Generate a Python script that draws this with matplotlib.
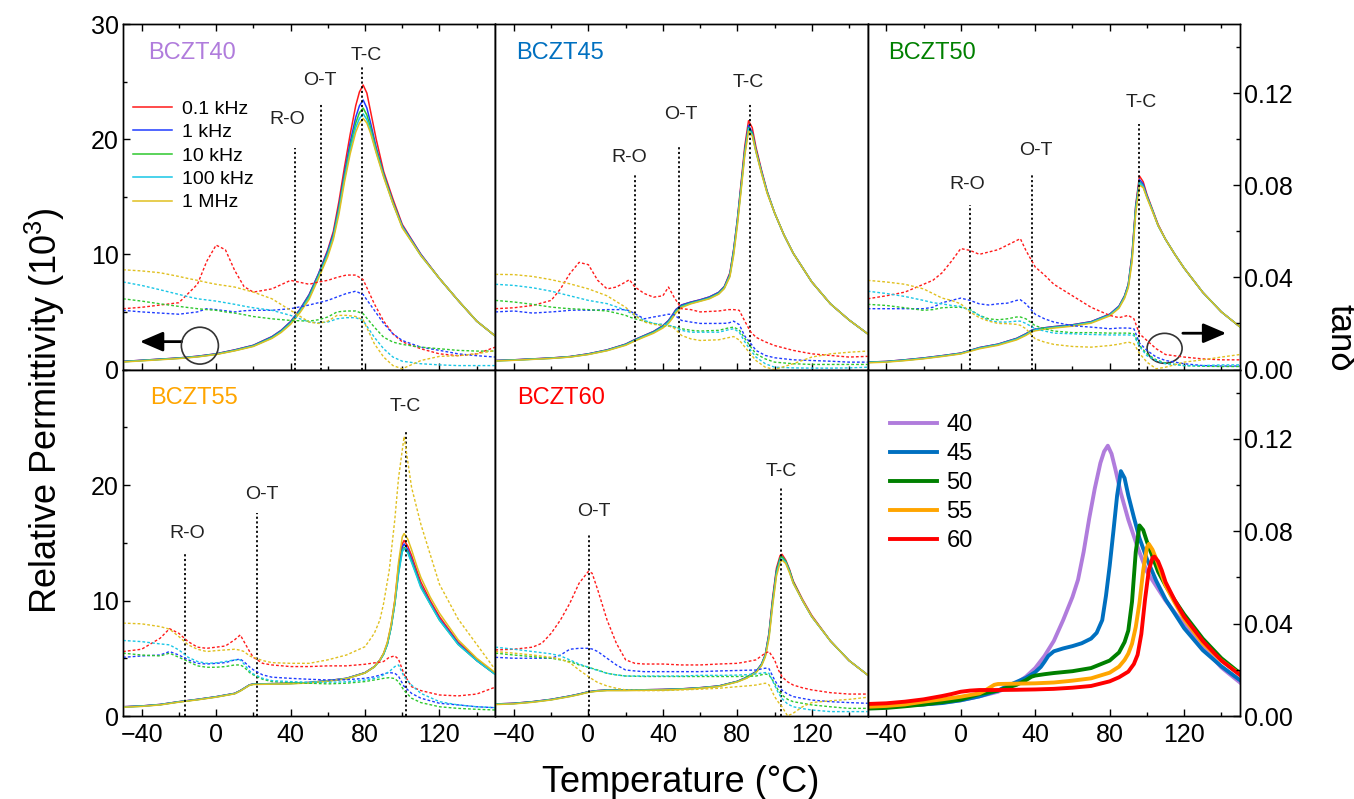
import matplotlib
matplotlib.use("Agg")
import matplotlib.pyplot as plt
from matplotlib.patches import Ellipse
from matplotlib.ticker import MultipleLocator, FormatStrFormatter

plt.rcParams["font.family"] = ["Liberation Sans", "DejaVu Sans"]
plt.rcParams["mathtext.fontset"] = "custom"
plt.rcParams["mathtext.rm"] = "Liberation Sans"
plt.rcParams["mathtext.it"] = "Liberation Sans"
plt.rcParams["axes.linewidth"] = 1.0

freq_labels = ["0.1 kHz", "1 kHz", "10 kHz", "100 kHz", "1 MHz"]
freq_colors = ["#ff1a1a", "#1f3cff", "#2ec82e", "#19c6e6", "#e0c020"]

# ---- BCZT40 ----
t40_eps = [-50, -40, -30, -20, -10, 0, 10, 20, 30, 35, 40, 45, 50, 55, 60, 63, 66, 69, 72, 75,
           77, 79, 81, 83, 86, 90, 95, 100, 110, 120, 130, 140, 150]
eps40 = [
    [0.70, 0.80, 0.90, 1.00, 1.15, 1.36, 1.70, 2.10, 2.85, 3.40, 4.15, 5.20, 6.50, 8.30, 10.4, 12.0, 14.6, 17.6, 20.4, 22.9,
     24.1, 24.7, 24.0, 22.4, 20.0, 17.2, 14.8, 12.6, 10.0, 7.9, 6.0, 4.2, 2.9],
    [0.70, 0.80, 0.90, 1.00, 1.15, 1.36, 1.70, 2.10, 2.85, 3.40, 4.15, 5.20, 6.50, 8.30, 10.3, 11.8, 14.2, 17.1, 19.7, 21.9,
     22.9, 23.4, 22.7, 21.4, 19.3, 17.0, 14.6, 12.5, 10.0, 7.9, 6.0, 4.2, 2.9],
    [0.68, 0.78, 0.88, 0.98, 1.12, 1.33, 1.66, 2.05, 2.78, 3.32, 4.05, 5.08, 6.35, 8.15, 10.1, 11.6, 14.0, 16.8, 19.3, 21.4,
     22.3, 22.7, 22.1, 21.0, 19.1, 16.9, 14.5, 12.4, 9.9, 7.9, 6.0, 4.2, 2.9],
    [0.67, 0.77, 0.87, 0.97, 1.11, 1.32, 1.64, 2.03, 2.74, 3.28, 4.00, 5.02, 6.25, 8.05, 10.0, 11.5, 13.8, 16.6, 19.0, 21.0,
     21.8, 22.2, 21.7, 20.7, 18.9, 16.8, 14.4, 12.4, 9.9, 7.9, 6.0, 4.2, 2.9],
    [0.65, 0.75, 0.85, 0.95, 1.09, 1.30, 1.62, 2.00, 2.70, 3.22, 3.92, 4.92, 6.10, 7.90, 9.8, 11.3, 13.5, 16.3, 18.7, 20.6,
     21.4, 21.8, 21.4, 20.5, 18.8, 16.7, 14.4, 12.3, 9.9, 7.9, 6.0, 4.2, 2.9],
]
t40_tan = [-50, -40, -30, -20, -15, -10, -5, 0, 5, 10, 15, 20, 30, 40, 50, 55, 60, 65, 70, 75,
           79, 85, 90, 95, 100, 110, 120, 130, 140, 150]
tan40 = [
    [.0264, .0270, .0280, .0290, .0330, .0370, .0470, .0540, .0520, .0430, .0360, .0336, .0350, .0387, .0370, .0380, .0387, .0400, .0410, .0410,
     .0390, .0285, .0210, .0155, .0120, .0090, .0068, .0060, .0068, .0097],
    [.0257, .0250, .0245, .0240, .0245, .0250, .0264, .0260, .0255, .0250, .0255, .0257, .0257, .0264, .0280, .0290, .0300, .0315, .0330, .0340,
     .0325, .0257, .0200, .0155, .0126, .0097, .0083, .0068, .0060, .0054],
    [.0307, .0297, .0285, .0274, .0269, .0264, .0260, .0257, .0250, .0245, .0238, .0230, .0220, .0213, .0210, .0216, .0228, .0250, .0254, .0254,
     .0242, .0184, .0140, .0119, .0109, .0097, .0090, .0083, .0080, .0080],
    [.0380, .0365, .0346, .0326, .0316, .0307, .0302, .0297, .0290, .0283, .0275, .0268, .0257, .0235, .0206, .0203, .0206, .0220, .0225, .0225,
     .0212, .0140, .0090, .0054, .0036, .0025, .0020, .0017, .0017, .0017],
    [.0433, .0428, .0420, .0404, .0395, .0387, .0378, .0370, .0364, .0358, .0347, .0336, .0307, .0257, .0206, .0200, .0210, .0235, .0235, .0230,
     .0215, .0112, .0054, .0017, .0003, .0039, .0057, .0060, .0068, .0083],
]

# ---- BCZT45 ----
t45_eps = [-50, -40, -30, -20, -10, 0, 10, 20, 25, 30, 35, 40, 43, 45, 47, 50, 55, 60, 65, 70,
           73, 76, 78, 80, 82, 84, 86, 88, 90, 93, 96, 100, 105, 110, 120, 130, 140, 150]
eps45 = [
    [0.78, 0.84, 0.92, 1.00, 1.12, 1.36, 1.70, 2.20, 2.60, 2.95, 3.30, 3.80, 4.25, 4.70, 5.20, 5.60, 5.85, 6.05, 6.30, 6.70,
     7.20, 8.40, 10.4, 13.0, 16.2, 19.4, 21.6, 21.0, 19.3, 17.3, 15.5, 13.6, 11.7, 10.1, 7.6, 5.7, 4.3, 3.1],
    [0.78, 0.84, 0.92, 1.00, 1.12, 1.36, 1.70, 2.20, 2.60, 2.95, 3.30, 3.80, 4.25, 4.70, 5.20, 5.60, 5.85, 6.05, 6.30, 6.70,
     7.20, 8.30, 10.4, 13.0, 16.0, 19.1, 21.2, 20.6, 19.1, 17.2, 15.4, 13.6, 11.7, 10.1, 7.6, 5.7, 4.3, 3.1],
    [0.76, 0.82, 0.90, 0.98, 1.10, 1.33, 1.67, 2.16, 2.55, 2.90, 3.24, 3.72, 4.15, 4.58, 5.08, 5.50, 5.78, 5.98, 6.22, 6.62,
     7.12, 8.20, 10.2, 12.8, 15.8, 18.9, 21.0, 20.5, 19.0, 17.1, 15.4, 13.6, 11.7, 10.1, 7.6, 5.7, 4.3, 3.1],
    [0.75, 0.81, 0.89, 0.97, 1.09, 1.32, 1.65, 2.14, 2.52, 2.87, 3.20, 3.68, 4.10, 4.52, 5.02, 5.45, 5.74, 5.95, 6.18, 6.58,
     7.08, 8.15, 10.1, 12.7, 15.7, 18.8, 20.9, 20.4, 18.9, 17.1, 15.4, 13.6, 11.7, 10.1, 7.6, 5.7, 4.3, 3.1],
    [0.74, 0.80, 0.88, 0.96, 1.08, 1.30, 1.63, 2.10, 2.48, 2.82, 3.15, 3.60, 4.00, 4.42, 4.92, 5.38, 5.70, 5.92, 6.14, 6.54,
     7.02, 8.05, 9.9, 12.5, 15.5, 18.6, 20.7, 20.3, 18.9, 17.0, 15.3, 13.6, 11.7, 10.1, 7.6, 5.7, 4.3, 3.1],
]
t45_tan = [-50, -40, -30, -20, -15, -10, -5, 0, 5, 10, 15, 20, 22, 25, 30, 35, 40, 43, 46, 50,
           55, 60, 70, 75, 78, 81, 84, 87, 90, 95, 100, 110, 120, 130, 140, 150]
tan45 = [
    [.0264, .0268, .0278, .0300, .0350, .0416, .0465, .0455, .0387, .0350, .0358, .0380, .0390, .0358, .0330, .0314, .0320, .0358, .0314, .0264,
     .0260, .0250, .0254, .0260, .0260, .0257, .0210, .0165, .0140, .0120, .0104, .0083, .0068, .0061, .0054, .0057],
    [.0250, .0254, .0245, .0250, .0253, .0257, .0258, .0257, .0258, .0260, .0260, .0260, .0255, .0242, .0220, .0228, .0235, .0240, .0238, .0213,
     .0206, .0200, .0200, .0201, .0210, .0195, .0145, .0115, .0083, .0061, .0051, .0042, .0039, .0036, .0032, .0032],
    [.0300, .0293, .0283, .0271, .0267, .0264, .0262, .0260, .0257, .0254, .0245, .0235, .0228, .0220, .0210, .0200, .0191, .0189, .0185, .0177,
     .0170, .0167, .0170, .0180, .0184, .0172, .0135, .0100, .0068, .0046, .0032, .0025, .0022, .0022, .0022, .0022],
    [.0370, .0365, .0355, .0340, .0330, .0320, .0310, .0300, .0293, .0286, .0272, .0257, .0248, .0235, .0213, .0200, .0196, .0192, .0186, .0170,
     .0162, .0162, .0162, .0172, .0177, .0162, .0120, .0085, .0054, .0025, .0010, .0007, .0006, .0006, .0007, .0010],
    [.0413, .0412, .0404, .0390, .0381, .0372, .0361, .0350, .0335, .0320, .0295, .0270, .0255, .0235, .0206, .0196, .0191, .0189, .0180, .0148,
     .0133, .0126, .0129, .0138, .0143, .0128, .0098, .0068, .0039, .0010, .0000, .0025, .0054, .0068, .0075, .0080],
]

# ---- BCZT50 ----
t50_eps = [-50, -40, -30, -20, -10, 0, 10, 20, 30, 35, 38, 40, 45, 50, 60, 70, 80, 85, 88, 90,
           92, 94, 96, 98, 100, 103, 106, 110, 115, 120, 130, 140, 150]
eps50 = [
    [0.64, 0.70, 0.84, 1.00, 1.20, 1.42, 1.90, 2.20, 2.70, 3.10, 3.40, 3.50, 3.62, 3.72, 3.88, 4.15, 4.80, 5.50, 6.40, 7.40,
     10.0, 14.3, 16.8, 16.3, 15.2, 13.9, 12.6, 11.3, 10.0, 8.8, 6.7, 5.0, 3.7],
    [0.64, 0.70, 0.84, 1.00, 1.20, 1.42, 1.90, 2.20, 2.70, 3.10, 3.40, 3.50, 3.62, 3.72, 3.88, 4.15, 4.80, 5.50, 6.40, 7.40,
     9.9, 14.2, 16.5, 16.1, 15.1, 13.8, 12.5, 11.3, 10.0, 8.8, 6.7, 5.0, 3.7],
    [0.62, 0.68, 0.81, 0.97, 1.17, 1.39, 1.86, 2.16, 2.65, 3.04, 3.34, 3.44, 3.57, 3.67, 3.83, 4.10, 4.74, 5.42, 6.32, 7.30,
     9.7, 14.0, 16.3, 15.9, 15.0, 13.8, 12.5, 11.3, 10.0, 8.8, 6.7, 5.0, 3.7],
    [0.61, 0.67, 0.80, 0.96, 1.16, 1.38, 1.85, 2.15, 2.63, 3.02, 3.32, 3.42, 3.55, 3.65, 3.81, 4.08, 4.72, 5.40, 6.28, 7.25,
     9.6, 13.9, 16.2, 15.9, 15.0, 13.8, 12.5, 11.3, 10.0, 8.8, 6.7, 5.0, 3.7],
    [0.58, 0.64, 0.77, 0.93, 1.13, 1.35, 1.80, 2.10, 2.57, 2.96, 3.26, 3.36, 3.50, 3.60, 3.76, 4.02, 4.65, 5.32, 6.18, 7.10,
     9.3, 13.6, 16.0, 15.8, 14.9, 13.7, 12.5, 11.3, 10.0, 8.8, 6.7, 5.0, 3.7],
]
t50_tan = [-50, -40, -30, -20, -15, -10, -5, 0, 5, 10, 15, 20, 25, 30, 32, 35, 40, 45, 50, 60,
           70, 80, 85, 90, 93, 96, 100, 105, 110, 120, 130, 140, 150]
tan50 = [
    [.0307, .0320, .0336, .0370, .0387, .0420, .0470, .0525, .0517, .0500, .0510, .0520, .0540, .0560, .0568, .0517, .0445, .0410, .0370, .0320,
     .0270, .0235, .0225, .0235, .0220, .0155, .0126, .0090, .0065, .0054, .0046, .0042, .0042],
    [.0264, .0264, .0264, .0264, .0270, .0290, .0300, .0310, .0300, .0285, .0280, .0285, .0288, .0300, .0303, .0285, .0240, .0220, .0206, .0190,
     .0184, .0177, .0180, .0180, .0177, .0115, .0083, .0054, .0039, .0025, .0017, .0015, .0015],
    [.0283, .0278, .0268, .0257, .0260, .0268, .0270, .0270, .0260, .0235, .0220, .0216, .0220, .0228, .0228, .0220, .0190, .0177, .0167, .0160,
     .0160, .0158, .0158, .0158, .0155, .0105, .0068, .0042, .0028, .0017, .0014, .0013, .0013],
    [.0340, .0330, .0317, .0300, .0290, .0285, .0278, .0274, .0257, .0235, .0213, .0206, .0206, .0210, .0210, .0200, .0177, .0167, .0158, .0155,
     .0152, .0150, .0150, .0150, .0148, .0100, .0060, .0039, .0025, .0017, .0017, .0020, .0020],
    [.0387, .0380, .0370, .0350, .0330, .0310, .0300, .0285, .0250, .0225, .0210, .0200, .0199, .0196, .0192, .0177, .0133, .0119, .0109, .0100,
     .0097, .0104, .0110, .0119, .0112, .0070, .0032, .0003, .0010, .0032, .0042, .0054, .0065],
]

# ---- BCZT55 ----
t55_eps = [-50, -40, -30, -20, -10, 0, 10, 13, 15, 18, 20, 30, 40, 50, 60, 70, 80, 85, 88, 90,
           92, 94, 96, 98, 100, 101, 103, 105, 108, 110, 115, 120, 130, 140, 150]
eps55 = [
    [0.80, 0.87, 1.00, 1.24, 1.44, 1.67, 1.96, 2.20, 2.40, 2.70, 2.77, 2.80, 2.83, 2.90, 3.06, 3.26, 3.75, 4.27, 4.85, 5.40,
     6.30, 7.80, 10.0, 13.0, 14.9, 15.2, 14.7, 13.9, 12.5, 11.6, 10.0, 8.6, 6.4, 4.9, 3.65],
    [0.80, 0.87, 1.00, 1.24, 1.44, 1.67, 1.96, 2.20, 2.40, 2.70, 2.77, 2.80, 2.83, 2.90, 3.06, 3.26, 3.75, 4.27, 4.85, 5.40,
     6.25, 7.70, 9.8, 12.6, 14.6, 14.9, 14.4, 13.6, 12.2, 11.3, 9.8, 8.4, 6.3, 4.8, 3.6],
    [0.78, 0.85, 0.98, 1.22, 1.42, 1.65, 1.94, 2.18, 2.38, 2.68, 2.75, 2.78, 2.81, 2.88, 3.04, 3.24, 3.73, 4.25, 4.82, 5.35,
     6.20, 7.65, 9.7, 12.4, 14.3, 14.6, 14.2, 13.4, 12.1, 11.2, 9.7, 8.3, 6.2, 4.8, 3.6],
    [0.78, 0.85, 0.98, 1.22, 1.42, 1.65, 1.94, 2.18, 2.38, 2.68, 2.75, 2.78, 2.81, 2.88, 3.04, 3.24, 3.73, 4.25, 4.82, 5.35,
     6.20, 7.65, 9.7, 12.3, 14.2, 14.5, 14.1, 13.3, 12.0, 11.1, 9.7, 8.3, 6.2, 4.8, 3.6],
    [0.76, 0.83, 0.96, 1.20, 1.40, 1.63, 1.92, 2.16, 2.36, 2.66, 2.73, 2.76, 2.79, 2.86, 3.02, 3.22, 3.72, 4.25, 4.85, 5.45,
     6.40, 7.90, 10.0, 13.3, 15.5, 15.8, 15.3, 14.4, 12.9, 12.0, 10.3, 8.9, 6.6, 5.0, 3.75],
]
t55_tan = [-50, -40, -30, -25, -20, -15, -10, -5, 0, 5, 10, 13, 15, 18, 20, 25, 30, 40, 50, 60,
           70, 80, 85, 88, 90, 93, 96, 98, 101, 105, 110, 120, 130, 140, 150]
tan55 = [
    [.0279, .0289, .0337, .0378, .0358, .0322, .0298, .0293, .0298, .0303, .0330, .0351, .0322, .0279, .0254, .0228, .0221, .0214, .0214, .0217,
     .0217, .0224, .0230, .0233, .0236, .0254, .0260, .0246, .0180, .0127, .0110, .0091, .0087, .0095, .0125],
    [.0254, .0260, .0264, .0279, .0264, .0243, .0228, .0225, .0228, .0231, .0243, .0246, .0235, .0212, .0200, .0178, .0168, .0163, .0159, .0156,
     .0157, .0163, .0170, .0177, .0182, .0188, .0185, .0172, .0128, .0098, .0077, .0055, .0048, .0040, .0036],
    [.0272, .0264, .0260, .0272, .0254, .0236, .0217, .0211, .0211, .0214, .0221, .0221, .0212, .0188, .0178, .0159, .0149, .0145, .0142, .0139,
     .0142, .0149, .0156, .0160, .0163, .0166, .0162, .0148, .0110, .0077, .0058, .0040, .0033, .0029, .0026],
    [.0327, .0322, .0312, .0308, .0286, .0254, .0236, .0228, .0230, .0236, .0243, .0243, .0225, .0195, .0182, .0163, .0153, .0149, .0146, .0146,
     .0148, .0156, .0163, .0170, .0178, .0192, .0214, .0221, .0170, .0134, .0098, .0062, .0048, .0040, .0036],
    [.0402, .0399, .0387, .0376, .0344, .0308, .0289, .0279, .0283, .0286, .0289, .0285, .0279, .0260, .0254, .0240, .0231, .0228, .0228, .0243,
     .0264, .0300, .0358, .0416, .0488, .0630, .0850, .1030, .1210, .0990, .0830, .0570, .0420, .0310, .0200],
]

# ---- BCZT60 ----
t60_eps = [-50, -40, -30, -20, -10, -5, 0, 5, 10, 20, 30, 40, 50, 60, 70, 80, 85, 90, 93, 95,
           97, 99, 101, 103, 104, 106, 108, 110, 115, 120, 130, 140, 150]
eps60 = [
    [1.04, 1.10, 1.24, 1.44, 1.73, 1.90, 2.10, 2.20, 2.25, 2.25, 2.27, 2.30, 2.35, 2.45, 2.60, 3.00, 3.35, 3.84, 4.50, 5.30,
     7.20, 10.3, 12.8, 13.9, 14.0, 13.5, 12.7, 11.7, 10.1, 8.7, 6.5, 4.8, 3.55],
    [1.04, 1.10, 1.24, 1.44, 1.73, 1.90, 2.10, 2.20, 2.25, 2.25, 2.27, 2.30, 2.35, 2.45, 2.60, 3.00, 3.35, 3.84, 4.50, 5.30,
     7.10, 10.1, 12.6, 13.7, 13.8, 13.4, 12.6, 11.6, 10.0, 8.6, 6.5, 4.8, 3.55],
    [1.02, 1.08, 1.22, 1.42, 1.71, 1.88, 2.08, 2.18, 2.23, 2.23, 2.25, 2.28, 2.33, 2.43, 2.58, 2.98, 3.32, 3.80, 4.45, 5.25,
     7.00, 10.0, 12.5, 13.7, 13.8, 13.4, 12.6, 11.6, 10.0, 8.6, 6.5, 4.8, 3.55],
    [1.01, 1.07, 1.21, 1.41, 1.70, 1.87, 2.07, 2.17, 2.22, 2.22, 2.24, 2.27, 2.32, 2.42, 2.57, 2.97, 3.30, 3.78, 4.42, 5.20,
     6.90, 9.8, 12.3, 13.5, 13.6, 13.3, 12.5, 11.5, 10.0, 8.6, 6.5, 4.8, 3.55],
    [0.99, 1.05, 1.19, 1.39, 1.68, 1.85, 2.05, 2.15, 2.20, 2.20, 2.22, 2.25, 2.30, 2.40, 2.55, 2.95, 3.27, 3.74, 4.35, 5.10,
     6.70, 9.6, 12.1, 13.3, 13.5, 13.2, 12.4, 11.5, 10.0, 8.6, 6.5, 4.8, 3.55],
]
t60_tan = [-50, -40, -30, -25, -20, -15, -10, -5, 0, 2, 5, 10, 15, 20, 25, 30, 40, 50, 60, 70,
           80, 85, 90, 95, 97, 100, 102, 104, 107, 110, 115, 120, 130, 140, 150]
tan60 = [
    [.0286, .0289, .0298, .0315, .0358, .0416, .0488, .0575, .0626, .0618, .0546, .0416, .0315, .0243, .0228, .0225, .0225, .0221, .0221, .0225,
     .0228, .0235, .0243, .0272, .0279, .0243, .0200, .0170, .0148, .0134, .0122, .0113, .0101, .0095, .0095],
    [.0254, .0250, .0250, .0250, .0250, .0264, .0289, .0293, .0293, .0290, .0279, .0250, .0221, .0199, .0195, .0192, .0192, .0192, .0192, .0195,
     .0197, .0198, .0199, .0207, .0205, .0156, .0130, .0112, .0095, .0084, .0076, .0069, .0062, .0058, .0055],
    [.0272, .0264, .0257, .0253, .0250, .0243, .0236, .0221, .0211, .0206, .0199, .0185, .0178, .0173, .0172, .0171, .0171, .0171, .0171, .0171,
     .0171, .0172, .0173, .0182, .0178, .0142, .0110, .0091, .0072, .0062, .0055, .0048, .0040, .0033, .0033],
    [.0298, .0289, .0279, .0274, .0269, .0260, .0243, .0225, .0211, .0205, .0197, .0185, .0178, .0173, .0173, .0173, .0173, .0173, .0176, .0176,
     .0177, .0179, .0182, .0188, .0185, .0134, .0100, .0075, .0052, .0040, .0032, .0026, .0019, .0019, .0019],
    [.0279, .0272, .0264, .0259, .0254, .0246, .0231, .0199, .0171, .0160, .0145, .0130, .0120, .0113, .0111, .0110, .0110, .0113, .0116, .0120,
     .0127, .0130, .0134, .0142, .0135, .0084, .0060, .0040, .0000, .0012, .0040, .0058, .0066, .0072, .0081],
]

samples = ["BCZT40", "BCZT45", "BCZT50", "BCZT55", "BCZT60"]
sample_colors = ["#b07cdc", "#0070c0", "#008000", "#ffa500", "#ff0000"]
compositions = ["40", "45", "50", "55", "60"]
eps_temps = [t40_eps, t45_eps, t50_eps, t55_eps, t60_eps]
tan_temps = [t40_tan, t45_tan, t50_tan, t55_tan, t60_tan]
eps_sets = [eps40, eps45, eps50, eps55, eps60]
tan_sets = [tan40, tan45, tan50, tan55, tan60]

# transition markers: (label, temperature, line top, text x, text y)
transitions = [
    [("R-O", 42.4, 19.2, 38.1, 21.7), ("O-T", 56.3, 23.1, 55.8, 25.1), ("T-C", 78.4, 26.3, 80.6, 27.3)],
    [("R-O", 25.2, 17.0, 21.9, 18.4), ("O-T", 48.4, 19.5, 49.5, 22.1), ("T-C", 86.9, 23.1, 86.0, 24.9)],
    [("R-O", 4.8, 14.3, 3.7, 16.1), ("O-T", 38.4, 17.0, 40.2, 19.0), ("T-C", 95.7, 21.3, 97.1, 23.2)],
    [("R-O", -16.7, 14.2, -15.6, 15.8), ("O-T", 21.8, 17.6, 24.5, 19.2), ("T-C", 101.8, 24.6, 101.7, 26.8)],
    [("O-T", 0.5, 15.8, 2.7, 17.7), ("T-C", 103.6, 19.7, 103.4, 21.2)],
]
label_x = [0.067, 0.056, 0.054, 0.074, 0.058]

W, H = 1354, 799
fig = plt.figure(figsize=(W / 100, H / 100), dpi=100)
x_left, x_right, y_top, y_mid, y_bot = 123, 1240, 24, 369.5, 716
col_w = (x_right - x_left) / 3


def make_panel(row, col):
    x0 = x_left + col * col_w
    top, bot = (y_top, y_mid) if row == 0 else (y_mid, y_bot)
    ax = fig.add_axes([x0 / W, 1 - bot / H, col_w / W, (bot - top) / H])
    ax2 = ax.twinx()
    ax.set_xlim(-50, 150)
    ax.set_ylim(0, 30)
    ax2.set_ylim(0, 0.15)

    ax.set_xticks([-40, 0, 40, 80, 120])
    ax.xaxis.set_minor_locator(MultipleLocator(20))
    ax.set_yticks([0, 10, 20, 30] if row == 0 else [0, 10, 20])
    ax.yaxis.set_minor_locator(MultipleLocator(5))
    ax.tick_params(which="both", direction="in", width=1.0, labelsize=18,
                   top=(row == 0), bottom=True, left=(col == 0), right=False,
                   labelbottom=(row == 1), labelleft=(col == 0), labeltop=False)
    ax.tick_params(which="major", length=5, pad=5)
    ax.tick_params(which="minor", length=3)
    ax.tick_params(axis="y", pad=3)

    ax2.set_yticks([0, 0.04, 0.08, 0.12])
    ax2.yaxis.set_minor_locator(MultipleLocator(0.02))
    ax2.yaxis.set_major_formatter(FormatStrFormatter("%.2f"))
    show = col == 2
    ax2.tick_params(which="both", direction="in", width=1.0, labelsize=18, pad=3,
                    right=show, labelright=show, left=False, labelleft=False)
    ax2.tick_params(which="major", length=5)
    ax2.tick_params(which="minor", length=3)
    return ax, ax2


dash = (0, (2.0, 1.5))
axes_list = []
for i in range(5):
    row, col = divmod(i, 3)
    ax, ax2 = make_panel(row, col)
    axes_list.append(ax)
    for k in range(5):
        ax.plot(eps_temps[i], eps_sets[i][k], color=freq_colors[k], lw=1.1,
                label=freq_labels[k], zorder=3 + k * 0.01)
        ax2.plot(tan_temps[i], tan_sets[i][k], color=freq_colors[k], lw=1.0, ls=dash)
    for name, tx, ytop, lx, ly in transitions[i]:
        ax.plot([tx, tx], [0, ytop], color="black", lw=1.3, ls=(0, (1.2, 1.4)), zorder=5)
        ax.text(lx, ly, name, ha="center", va="center", fontsize=14, color="#222222")
    ax.text(label_x[i], 0.9, samples[i], transform=ax.transAxes, fontsize=17,
            color=sample_colors[i], ha="left", va="baseline")

# frequency legend in the first panel
ax0 = axes_list[0]
ax0.legend(loc="upper left", bbox_to_anchor=(0.027, 0.78), frameon=False,
           fontsize=14, handlelength=2.0, handletextpad=0.5, labelspacing=0.3,
           borderpad=0, borderaxespad=0)

# loss / permittivity direction markers
ax0.add_patch(Ellipse((-8.7, 2.07), 19.9, 3.2, fill=False, ec="#333333", lw=1.2, zorder=6))
ax0.annotate("", xy=(-40.9, 2.42), xytext=(-18.5, 2.42),
             arrowprops=dict(arrowstyle="-|>,head_length=0.7,head_width=0.3",
                             mutation_scale=20, lw=2, color="black", shrinkA=0, shrinkB=0))
ax_50 = axes_list[2]
ax_50.add_patch(Ellipse((109.5, 1.84), 18.8, 2.6, fill=False, ec="#333333", lw=1.2, zorder=6))
ax_50.annotate("", xy=(142.6, 3.15), xytext=(119.3, 3.15),
               arrowprops=dict(arrowstyle="-|>,head_length=0.7,head_width=0.3",
                               mutation_scale=20, lw=2, color="black", shrinkA=0, shrinkB=0))

# composition comparison at 1 kHz
ax6, _ = make_panel(1, 2)
for i in range(5):
    ax6.plot(eps_temps[i], eps_sets[i][1], color=sample_colors[i], lw=2.8, label=compositions[i])
ax6.legend(loc="upper left", bbox_to_anchor=(0.059, 0.872), frameon=False,
           fontsize=17, handlelength=2.0, handletextpad=0.4, labelspacing=0.3,
           borderpad=0, borderaxespad=0)

fig.text(0.033, 1 - 411 / H, r"Relative Permittivity (10$^3$)", rotation=90,
         ha="center", va="center", fontsize=26)
fig.text(681 / W, 7 / H, "Temperature (°C)", ha="center", va="baseline", fontsize=26)
fig.text(1340 / W, 1 - 338 / H, "tanδ", rotation=270, ha="center", va="center", fontsize=25)

fig.savefig("out.png", dpi=100)
